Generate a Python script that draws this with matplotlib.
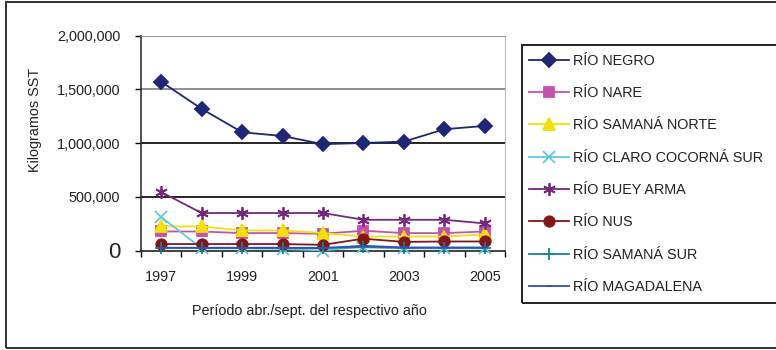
import numpy as np
import matplotlib
matplotlib.use('Agg')
import matplotlib.pyplot as plt
from matplotlib.patches import Rectangle
from matplotlib.ticker import FuncFormatter

plt.rcParams['font.family'] = ['Liberation Sans', 'DejaVu Sans']

# 数据
years = [1997, 1998, 1999, 2000, 2001, 2002, 2003, 2004, 2005]
tick_years = ['1997', '', '1999', '', '2001', '', '2003', '', '2005']

rio_negro = [1571000, 1319000, 1101000, 1066000, 990000, 1001000, 1014000, 1129000, 1160000]
rio_nare = [177000, 177000, 162000, 162000, 156000, 184000, 162000, 162000, 177000]
rio_samana_norte = [224000, 224000, 187000, 187000, 162000, 130000, 130000, 130000, 150000]
rio_claro = [311000, 20000, 20000, 15000, 0, 37000, 20000, 20000, 20000]
rio_buey_arma = [544000, 349000, 349000, 349000, 349000, 286000, 286000, 286000, 252000]
rio_nus = [60000, 60000, 60000, 60000, 53000, 110000, 80000, 84000, 84000]
rio_samana_sur = [25000, 25000, 25000, 25000, 25000, 30000, 25000, 25000, 25000]
rio_magdalena = [25000, 25000, 25000, 25000, 22000, 44000, 28000, 28000, 28000]

series = [
    ('RÍO NEGRO', rio_negro, '#1f2677', 'D', 7.5),
    ('RÍO NARE', rio_nare, '#c94fae', 's', 7.5),
    ('RÍO SAMANÁ NORTE', rio_samana_norte, '#f2e200', '^', 8.5),
    ('RÍO CLARO COCORNÁ SUR', rio_claro, '#5fc8e8', 'x', 8),
    ('RÍO BUEY ARMA', rio_buey_arma, '#76287f', (6, 2, 0), 9),
    ('RÍO NUS', rio_nus, '#861515', 'o', 7.5),
    ('RÍO SAMANÁ SUR', rio_samana_sur, '#15858a', '+', 9),
    ('RÍO MAGADALENA', rio_magdalena, '#2f50c0', '_', 5),
]

fs = 10.4
fig = plt.figure(figsize=(7.76, 3.5), dpi=100)
ax = fig.add_axes([141/776, 1-250.5/350, (505-141)/776, (250.5-35.7)/350])

x = np.arange(len(years))
for name, vals, col, mk, ms in series:
    ax.plot(x, vals, color=col, lw=1.3, marker=mk, markersize=ms,
            markerfacecolor=col, markeredgecolor=col, markeredgewidth=1.3, label=name,
            clip_on=False, zorder=3)

ax.set_xlim(-0.5, len(years) - 0.5)
ax.set_ylim(0, 2000000)

# 网格线
ax.axhline(500000, color='black', lw=1.2, zorder=1)
ax.axhline(1000000, color='black', lw=1.2, zorder=1)
ax.axhline(1500000, color='#909090', lw=1.4, zorder=1)

ax.set_yticks([0, 500000, 1000000, 1500000, 2000000])
ax.yaxis.set_major_formatter(FuncFormatter(lambda v, p: '{:,.0f}'.format(v)))
ax.tick_params(axis='y', direction='out', length=4, width=1, pad=11, labelsize=fs, labelcolor='#222222')
ax.get_yticklabels()[0].set_fontsize(16)

ax.set_xticks(x)
ax.set_xticklabels(tick_years)
ax.tick_params(axis='x', which='major', length=0, pad=14, labelsize=fs, labelcolor='#222222')
ax.set_xticks(np.arange(-0.5, len(years)), minor=True)
ax.tick_params(axis='x', which='minor', direction='out', length=4, width=1)

ax.spines['left'].set_color('#333333')
ax.spines['bottom'].set_color('#222222')
ax.spines['left'].set_linewidth(1.2)
ax.spines['bottom'].set_linewidth(1.2)
ax.spines['top'].set_color('#999999')
ax.spines['right'].set_color('#bbbbbb')

fig.text(35/776, 1-120/350, 'Kilogramos SST', rotation=90, ha='center', va='center',
         fontsize=fs, color='#222222')
fig.text(309/776, 1-311/350, 'Período abr./sept. del respectivo año', ha='center', va='center',
         fontsize=fs, color='#222222')

# 图例
leg = fig.legend(loc='upper left', bbox_to_anchor=(523/776, 1-48/350), frameon=False,
                 fontsize=fs, labelspacing=1.27, handlelength=2.75, handletextpad=0.3,
                 borderaxespad=0, numpoints=1)
for t in leg.get_texts():
    t.set_color('#222222')
fig.patches.append(Rectangle((521.5/776, 1-302.5/350), 0.4, (302.5-45)/350,
                             transform=fig.transFigure, fill=False, ec='#222222', lw=1.4))
# 外框
fig.patches.append(Rectangle((6/776, 1-347.5/350), 1.2, (347.5-2)/350,
                             transform=fig.transFigure, fill=False, ec='#333333', lw=1.4))

fig.savefig('out.png', dpi=100)
